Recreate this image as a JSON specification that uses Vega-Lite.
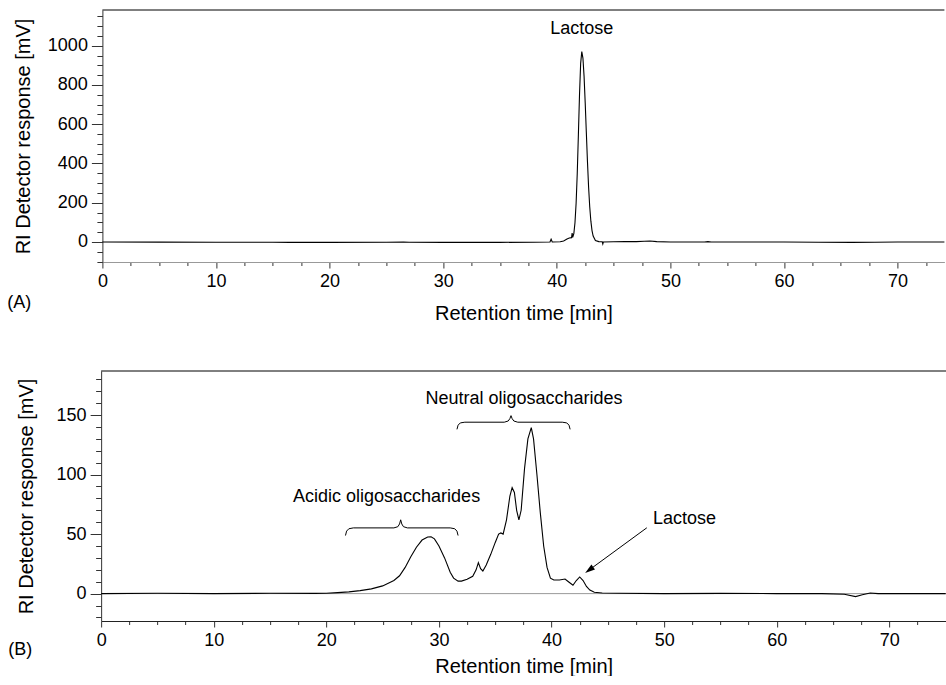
{
  "$schema": "https://vega.github.io/schema/vega-lite/v6.json",
  "padding": {"left": 7, "top": 7, "right": 0, "bottom": 0},
  "spacing": 47,
  "center": true,
  "config": {
    "font": "Liberation Sans",
    "view": {"stroke": null},
    "axis": {"labelFont": "Liberation Sans", "titleFont": "Liberation Sans", "labelFontSize": 18, "titleFontSize": 20, "titleFontWeight": "normal", "labelColor": "#000", "titleColor": "#000", "grid": false, "tickColor": "#333", "domainColor": "#333", "labelOverlap": false, "labelFlush": false, "format": "d"},
    "text": {"font": "Liberation Sans", "fontSize": 18, "color": "#000"}
  },
  "vconcat": [
    {
      "width": 842,
      "height": 252,
      "layer": [
        {
          "data": {"values": [
            {"t": 0, "v": 0}, {"t": 5, "v": -0.5}, {"t": 10, "v": -1}, {"t": 15, "v": -1}, {"t": 16.5, "v": -2}, {"t": 20, "v": -2}, {"t": 25, "v": -1.5}, {"t": 26.5, "v": 0}, {"t": 27, "v": -1}, {"t": 30, "v": -2}, {"t": 35, "v": -2}, {"t": 38, "v": -1},
            {"t": 39.4, "v": 0}, {"t": 39.5, "v": 14}, {"t": 39.6, "v": 0}, {"t": 40.3, "v": 1}, {"t": 40.6, "v": 5}, {"t": 40.9, "v": 15}, {"t": 41.1, "v": 20}, {"t": 41.3, "v": 22}, {"t": 41.35, "v": 45}, {"t": 41.4, "v": 24},
            {"t": 41.5, "v": 43}, {"t": 41.6, "v": 98}, {"t": 41.7, "v": 197}, {"t": 41.8, "v": 349}, {"t": 41.9, "v": 546}, {"t": 42.0, "v": 752}, {"t": 42.1, "v": 910}, {"t": 42.2, "v": 970}, {"t": 42.3, "v": 937}, {"t": 42.4, "v": 845}, {"t": 42.5, "v": 710}, {"t": 42.6, "v": 558}, {"t": 42.7, "v": 409}, {"t": 42.8, "v": 279}, {"t": 42.9, "v": 178}, {"t": 43.0, "v": 106}, {"t": 43.1, "v": 58}, {"t": 43.2, "v": 30}, {"t": 43.4, "v": 7}, {"t": 43.7, "v": 2}, {"t": 44.0, "v": 1}, {"t": 44.05, "v": -10}, {"t": 44.1, "v": 0},
            {"t": 45, "v": 1}, {"t": 46, "v": 2}, {"t": 47, "v": 2}, {"t": 47.7, "v": 4}, {"t": 48.2, "v": 5}, {"t": 48.8, "v": 2}, {"t": 50, "v": 0}, {"t": 53, "v": 0}, {"t": 53.3, "v": 2}, {"t": 53.6, "v": 0}, {"t": 60, "v": 0}, {"t": 63, "v": -1}, {"t": 66, "v": -2}, {"t": 68, "v": -1}, {"t": 70, "v": 0}, {"t": 74.12, "v": 0}
          ]},
          "mark": {"type": "line", "color": "#000", "strokeWidth": 1.1},
          "encoding": {
            "x": {"field": "t", "type": "quantitative", "scale": {"domain": [0, 74.12], "nice": false, "zero": false},
              "axis": {"title": "Retention time [min]", "tickCount": 200, "values": [0,2.5,5,7.5,10,12.5,15,17.5,20,22.5,25,27.5,30,32.5,35,37.5,40,42.5,45,47.5,50,52.5,55,57.5,60,62.5,65,67.5,70,72.5],
                "labelExpr": "datum.value % 10 === 0 ? datum.label : ''", "labelOverlap": false, "labelFlush": false, "tickSize": {"condition": {"test": "datum.value % 10 === 0", "value": 6}, "value": 3.5}, "labelPadding": 4, "titlePadding": 13, "domainColor": "#999"}},
            "y": {"field": "v", "type": "quantitative", "scale": {"domain": [-102, 1182], "nice": false, "zero": false},
              "axis": {"title": "RI Detector response [mV]", "tickCount": 200, "values": [-100,-50,0,50,100,150,200,250,300,350,400,450,500,550,600,650,700,750,800,850,900,950,1000,1050,1100,1150],
                "labelExpr": "datum.value % 200 === 0 ? datum.label : ''", "labelOverlap": false, "labelFlush": false, "labelBound": false, "tickSize": {"condition": {"test": "datum.value % 200 === 0", "value": 11}, "value": 5.5}, "labelPadding": 4, "titlePadding": 14}}
          }
        },
        {
          "data": {"values": [{"v": 1182}]},
          "mark": {"type": "rule", "color": "#000", "strokeWidth": 1},
          "encoding": {"y": {"field": "v", "type": "quantitative"}}
        },
        {
          "data": {"values": [{"t": 42.2, "v": 1085, "label": "Lactose"}, {"t": -7.33, "v": -309, "label": "(A)"}]},
          "mark": {"type": "text", "align": "center", "baseline": "middle"},
          "encoding": {"x": {"field": "t", "type": "quantitative"}, "y": {"field": "v", "type": "quantitative"}, "text": {"field": "label"}}
        }
      ]
    },
    {
      "width": 845,
      "height": 250,
      "layer": [
        {
          "data": {"values": [{"v": 0}]},
          "mark": {"type": "rule", "color": "#999", "strokeWidth": 1},
          "encoding": {"y": {"field": "v", "type": "quantitative"}}
        },
        {
          "data": {"values": [
            {"t": 0, "v": 0}, {"t": 5, "v": 0.3}, {"t": 10, "v": 0}, {"t": 15, "v": 0.3}, {"t": 19, "v": 0.2}, {"t": 20, "v": 0.3}, {"t": 21, "v": 0.8}, {"t": 22, "v": 1.5}, {"t": 23, "v": 2.5}, {"t": 24, "v": 4}, {"t": 25, "v": 6.5}, {"t": 26, "v": 11}, {"t": 26.5, "v": 15}, {"t": 27, "v": 22}, {"t": 27.5, "v": 31}, {"t": 28, "v": 39}, {"t": 28.5, "v": 45}, {"t": 29, "v": 47.5}, {"t": 29.3, "v": 47.8}, {"t": 29.6, "v": 46}, {"t": 30, "v": 40}, {"t": 30.5, "v": 30}, {"t": 31, "v": 18}, {"t": 31.3, "v": 13}, {"t": 31.7, "v": 10.5}, {"t": 32, "v": 10.5}, {"t": 32.5, "v": 12}, {"t": 33, "v": 14.5},
            {"t": 33.3, "v": 20}, {"t": 33.5, "v": 26}, {"t": 33.7, "v": 21}, {"t": 33.9, "v": 19}, {"t": 34.2, "v": 24}, {"t": 34.6, "v": 33}, {"t": 35, "v": 43}, {"t": 35.3, "v": 50}, {"t": 35.5, "v": 51}, {"t": 35.7, "v": 50}, {"t": 36, "v": 62}, {"t": 36.3, "v": 82}, {"t": 36.5, "v": 89}, {"t": 36.7, "v": 85}, {"t": 36.9, "v": 70}, {"t": 37.1, "v": 62}, {"t": 37.3, "v": 70}, {"t": 37.6, "v": 105}, {"t": 37.9, "v": 130}, {"t": 38.2, "v": 139.5}, {"t": 38.4, "v": 130}, {"t": 38.7, "v": 100}, {"t": 39, "v": 68}, {"t": 39.3, "v": 40}, {"t": 39.6, "v": 22}, {"t": 39.9, "v": 13}, {"t": 40.2, "v": 11.5}, {"t": 40.7, "v": 11.5}, {"t": 41.2, "v": 12.3}, {"t": 41.5, "v": 10}, {"t": 41.9, "v": 7}, {"t": 42.2, "v": 11}, {"t": 42.5, "v": 14}, {"t": 42.8, "v": 11}, {"t": 43.1, "v": 6}, {"t": 43.4, "v": 3}, {"t": 43.8, "v": 1.2}, {"t": 44.5, "v": 0.5}, {"t": 46, "v": 0.3}, {"t": 50, "v": 0}, {"t": 55, "v": 0.2}, {"t": 60, "v": 0}, {"t": 64, "v": 0}, {"t": 66, "v": -0.5}, {"t": 67, "v": -2.5}, {"t": 67.6, "v": -1}, {"t": 68.3, "v": 0.5}, {"t": 69, "v": 0}, {"t": 75, "v": 0}
          ]},
          "mark": {"type": "line", "color": "#000", "strokeWidth": 1.1},
          "encoding": {
            "x": {"field": "t", "type": "quantitative", "scale": {"domain": [0, 75.04], "nice": false, "zero": false},
              "axis": {"title": "Retention time [min]", "tickCount": 200, "values": [0,2.5,5,7.5,10,12.5,15,17.5,20,22.5,25,27.5,30,32.5,35,37.5,40,42.5,45,47.5,50,52.5,55,57.5,60,62.5,65,67.5,70,72.5],
                "labelExpr": "datum.value % 10 === 0 ? datum.label : ''", "labelOverlap": false, "labelFlush": false, "tickSize": {"condition": {"test": "datum.value % 10 === 0", "value": 6}, "value": 3.5}, "labelPadding": 4, "titlePadding": 7, "domainColor": "#222"}},
            "y": {"field": "v", "type": "quantitative", "scale": {"domain": [-23, 187], "nice": false, "zero": false},
              "axis": {"title": "RI Detector response [mV]", "tickCount": 200, "values": [-20,-10,0,10,20,30,40,50,60,70,80,90,100,110,120,130,140,150,160,170,180],
                "labelExpr": "datum.value % 50 === 0 ? datum.label : ''", "labelOverlap": false, "labelFlush": false, "labelBound": false, "tickSize": {"condition": {"test": "datum.value % 50 === 0", "value": 11}, "value": 5.5}, "labelPadding": 4, "titlePadding": 20}}
          }
        },
        {
          "data": {"values": [
            {"s": "acid", "o": 1, "t": 21.7, "v": 48.8}, {"s": "acid", "o": 2, "t": 21.8, "v": 52.5}, {"s": "acid", "o": 3, "t": 22.0, "v": 54.5}, {"s": "acid", "o": 4, "t": 22.4, "v": 55.2}, {"s": "acid", "o": 5, "t": 26.0, "v": 55.2}, {"s": "acid", "o": 6, "t": 26.35, "v": 56.2}, {"s": "acid", "o": 7, "t": 26.5, "v": 58.5}, {"s": "acid", "o": 8, "t": 26.6, "v": 62}, {"s": "acid", "o": 9, "t": 26.7, "v": 58.5}, {"s": "acid", "o": 10, "t": 26.85, "v": 56.2}, {"s": "acid", "o": 11, "t": 27.2, "v": 55.2}, {"s": "acid", "o": 12, "t": 31.0, "v": 55.2}, {"s": "acid", "o": 13, "t": 31.4, "v": 54.5}, {"s": "acid", "o": 14, "t": 31.6, "v": 52.5}, {"s": "acid", "o": 15, "t": 31.7, "v": 48.8},
            {"s": "neut", "o": 1, "t": 31.6, "v": 138}, {"s": "neut", "o": 2, "t": 31.7, "v": 141.5}, {"s": "neut", "o": 3, "t": 31.9, "v": 143.4}, {"s": "neut", "o": 4, "t": 32.3, "v": 144}, {"s": "neut", "o": 5, "t": 35.8, "v": 144}, {"s": "neut", "o": 6, "t": 36.15, "v": 145}, {"s": "neut", "o": 7, "t": 36.3, "v": 147}, {"s": "neut", "o": 8, "t": 36.4, "v": 149.5}, {"s": "neut", "o": 9, "t": 36.5, "v": 147}, {"s": "neut", "o": 10, "t": 36.65, "v": 145}, {"s": "neut", "o": 11, "t": 37.0, "v": 144}, {"s": "neut", "o": 12, "t": 40.95, "v": 144}, {"s": "neut", "o": 13, "t": 41.35, "v": 143.4}, {"s": "neut", "o": 14, "t": 41.55, "v": 141.5}, {"s": "neut", "o": 15, "t": 41.65, "v": 138},
            {"s": "arrow", "o": 1, "t": 48.46, "v": 55.3}, {"s": "arrow", "o": 2, "t": 43.34, "v": 19.85}
          ]},
          "mark": {"type": "line", "color": "#000", "strokeWidth": 1},
          "encoding": {"x": {"field": "t", "type": "quantitative"}, "y": {"field": "v", "type": "quantitative"}, "detail": {"field": "s"}, "order": {"field": "o"}}
        },
        {
          "data": {"values": [{"t": 43.34, "v": 19.85}]},
          "mark": {"type": "point", "shape": "M0,-1L0.6,1L-0.6,1Z", "filled": true, "color": "#000", "opacity": 1, "size": 100, "angle": 234},
          "encoding": {"x": {"field": "t", "type": "quantitative"}, "y": {"field": "v", "type": "quantitative"}}
        },
        {
          "data": {"values": [
            {"t": 37.55, "v": 163.2, "label": "Neutral oligosaccharides"},
            {"t": 25.35, "v": 81.3, "label": "Acidic oligosaccharides"},
            {"t": 51.8, "v": 63.1, "label": "Lactose"},
            {"t": -7.19, "v": -47.1, "label": "(B)"}
          ]},
          "mark": {"type": "text", "align": "center", "baseline": "middle"},
          "encoding": {"x": {"field": "t", "type": "quantitative"}, "y": {"field": "v", "type": "quantitative"}, "text": {"field": "label"}}
        },
        {
          "data": {"values": [{"v": 187}]},
          "mark": {"type": "rule", "color": "#000", "strokeWidth": 1},
          "encoding": {"y": {"field": "v", "type": "quantitative"}}
        }
      ]
    }
  ]
}
